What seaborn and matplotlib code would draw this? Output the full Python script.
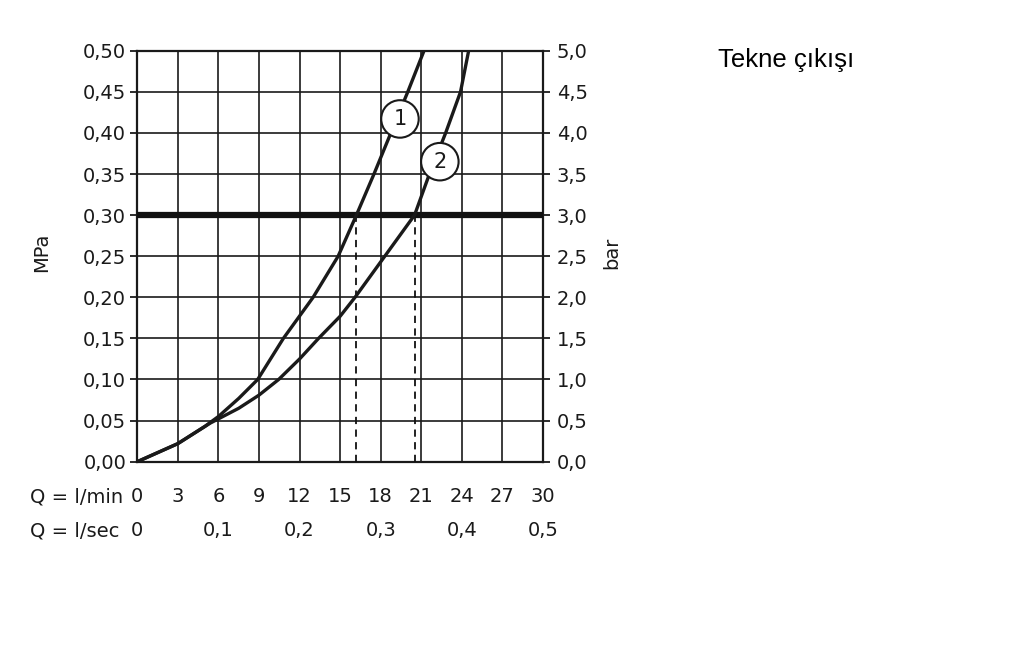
import numpy as np
import pandas as pd
import matplotlib
matplotlib.use("Agg")
import matplotlib.pyplot as plt
import seaborn as sns

# ---- data ----
flow_1 = [0, 3, 5.0, 6.0, 7.5, 8.9, 10.8, 13.0, 14.85, 16.2, 17.5, 18.75, 20.0, 21.2]
mpa_1 = [0, 0.022, 0.043, 0.055, 0.077, 0.10, 0.15, 0.20, 0.25, 0.30, 0.35, 0.40, 0.45, 0.50]

flow_2 = [0, 3, 5.4, 7.5, 9, 10.45, 12, 13.4, 15, 16.1, 18.3, 20.5, 21.6, 22.8, 23.9, 24.5]
mpa_2 = [0, 0.022, 0.047, 0.065, 0.081, 0.10, 0.125, 0.15, 0.177, 0.20, 0.25, 0.30,
         0.35, 0.40, 0.45, 0.50]

operating_pressure = 0.30
operating_flows = [16.2, 20.5]

curve_names = ["1", "2"]
label_x = [19.42, 22.37]
label_y = [0.417, 0.365]

lmin_ticks = [0, 3, 6, 9, 12, 15, 18, 21, 24, 27, 30]
lsec_ticks = [0, 0.1, 0.2, 0.3, 0.4, 0.5]
lsec_labels = ["0", "0,1", "0,2", "0,3", "0,4", "0,5"]
mpa_ticks = [0, 0.05, 0.10, 0.15, 0.20, 0.25, 0.30, 0.35, 0.40, 0.45, 0.50]
mpa_labels = ["0,00", "0,05", "0,10", "0,15", "0,20", "0,25", "0,30", "0,35", "0,40", "0,45", "0,50"]
bar_ticks = [0, 0.5, 1.0, 1.5, 2.0, 2.5, 3.0, 3.5, 4.0, 4.5, 5.0]
bar_labels = ["0,0", "0,5", "1,0", "1,5", "2,0", "2,5", "3,0", "3,5", "4,0", "4,5", "5,0"]

title = "Tekne çıkışı"

# ---- style ----
sns.set_style("white")
plt.rcParams["font.family"] = ["DejaVu Sans"]

fig = plt.figure(figsize=(10.24, 6.52), dpi=100)
ax = fig.add_axes([0.1341, 0.2919, 0.3962, 0.6303])

df = pd.concat([
    pd.DataFrame({"Q": flow_1, "p": mpa_1, "curve": "1"}),
    pd.DataFrame({"Q": flow_2, "p": mpa_2, "curve": "2"}),
])

ax.set_xlim(0, 30)
ax.set_ylim(0, 0.5)
ax.set_xticks(lmin_ticks)
ax.set_xticklabels([str(t) for t in lmin_ticks])
ax.set_yticks(mpa_ticks)
ax.set_yticklabels(mpa_labels)
ax.grid(True, color="#1a1a1a", linewidth=1.2)
ax.set_axisbelow(True)
for s in ax.spines.values():
    s.set_color("#1a1a1a")
    s.set_linewidth(1.6)
ax.tick_params(axis="both", direction="out", length=5, width=1.3, color="#1a1a1a",
               labelsize=14, labelcolor="#1a1a1a")
ax.tick_params(axis="x", pad=13)
ax.tick_params(axis="y", pad=3)

# operating pressure line
ax.axhline(operating_pressure, color="#111111", linewidth=4.5, zorder=3)
ax.vlines(operating_flows, 0, operating_pressure, colors="#111111", linestyles=(0, (4, 3)),
          linewidth=1.3, zorder=3)

sns.lineplot(data=df, x="Q", y="p", units="curve", estimator=None, sort=False,
             color="#1a1a1a", linewidth=2.4, ax=ax, legend=False, zorder=4)
ax.set_xlabel("")
ax.set_ylabel("")

for name, xx, yy in zip(curve_names, label_x, label_y):
    ax.text(xx, yy, name, fontsize=15, ha="center", va="center", color="#1a1a1a", zorder=6,
            bbox=dict(boxstyle="circle,pad=0.42", facecolor="white", edgecolor="#1a1a1a",
                      linewidth=1.5))

# right axis (bar)
ax2 = ax.twinx()
ax2.set_ylim(0, 5)
ax2.set_yticks(bar_ticks)
ax2.set_yticklabels(bar_labels)
ax2.tick_params(axis="y", direction="out", length=5, width=1.3, color="#1a1a1a",
                labelsize=14, labelcolor="#1a1a1a", pad=5)
ax2.grid(False)
for s in ax2.spines.values():
    s.set_visible(False)

# second x row (l/sec)
sec = ax.secondary_xaxis(-0.145, functions=(lambda q: q / 60.0, lambda v: v * 60.0))
sec.set_xticks(lsec_ticks)
sec.set_xticklabels(lsec_labels)
sec.tick_params(length=0, pad=0, labelsize=14, labelcolor="#1a1a1a")
sec.spines["bottom"].set_visible(False)

fig.text(30 / 1024, 1 - 497 / 652, "Q = l/min", fontsize=14, color="#1a1a1a", va="center", ha="left")
fig.text(30 / 1024, 1 - 531 / 652, "Q = l/sec", fontsize=14, color="#1a1a1a", va="center", ha="left")
fig.text(42 / 1024, 1 - 252 / 652, "MPa", fontsize=14, rotation=90, color="#1a1a1a",
         va="center", ha="center")
fig.text(612 / 1024, 1 - 253 / 652, "bar", fontsize=14, rotation=90, color="#1a1a1a",
         va="center", ha="center")
fig.text(718 / 1024, 1 - 60 / 652, title, fontsize=18.5, family=["Liberation Sans", "DejaVu Sans"],
         color="black", va="center", ha="left")

fig.savefig("out.png", dpi=100, facecolor="white")
